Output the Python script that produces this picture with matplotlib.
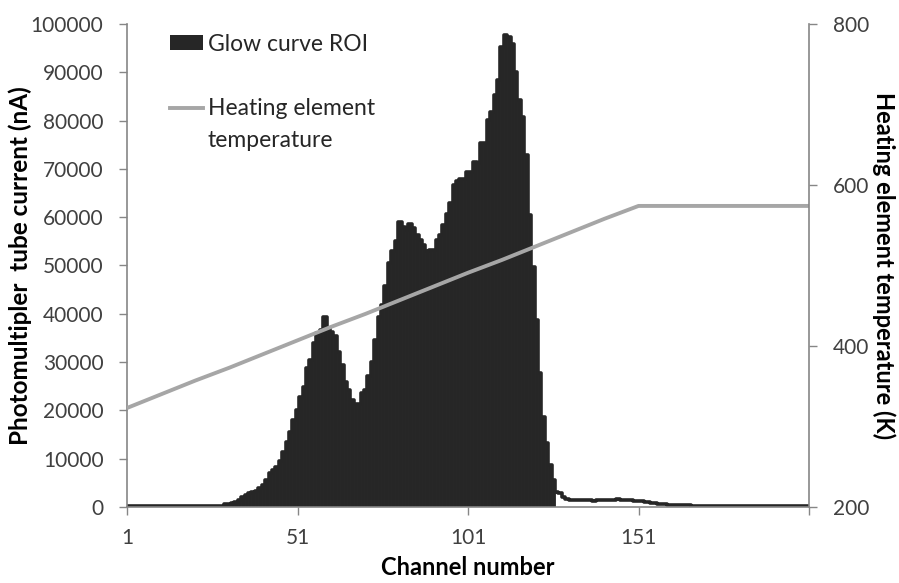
import numpy as np
import matplotlib
matplotlib.use("Agg")
import matplotlib.pyplot as plt
from matplotlib.patches import Patch
from matplotlib.lines import Line2D
from matplotlib.legend_handler import HandlerBase

plt.rcParams['font.family'] = ['Lato', 'DejaVu Sans']

# photomultiplier current per channel (nA), channels 1..201
glow_current = [
    120, 130, 120, 140, 130, 120, 130, 140, 150, 140, 130, 150, 140, 160,
    150, 140, 160, 170, 160, 180, 170, 190, 200, 190, 210, 230, 250, 280,
    300, 600, 700, 900, 1100, 1500, 2000, 2500, 2900, 3100, 3300, 4000,
    4600, 5600, 7000, 7600, 8300, 9500, 11400, 13500, 15500, 18000,
    20000, 22800, 24800, 28700, 30400, 33900, 36000, 36600, 39300, 37000,
    36300, 35300, 32100, 29400, 25900, 24200, 22100, 21300, 21300, 23600,
    24200, 27100, 30100, 34600, 39400, 41800, 45700, 50500, 53100, 55100,
    59100, 58000, 57300, 58600, 57700, 56300, 55300, 54200, 53100, 53200,
    53200, 55300, 56300, 58400, 60600, 63000, 66600, 67500, 67900, 67900,
    69400, 69400, 71500, 71300, 75400, 75300, 80100, 81800, 85300, 88500,
    95300, 97700, 97400, 95800, 90100, 84200, 80800, 72900, 60400, 49700,
    38700, 27700, 18700, 13200, 8700, 5600, 3200, 2800, 2100, 1700,
    1500, 1400, 1500, 1450, 1350, 1450, 1400, 1300, 1450, 1350,
    1400, 1500, 1350, 1450, 1550, 1400, 1500, 1450, 1400, 1300,
    1250, 1150, 1050, 950, 850, 750, 650, 600, 520, 450,
    400, 380, 350, 330, 320, 310, 300, 290, 300, 290,
    280, 290, 280, 300, 290, 280, 270, 280, 290, 280,
    270, 280, 270, 260, 270, 280, 270, 260, 270, 260,
    260, 270, 260, 250, 260, 270, 260, 250, 260, 250, 250,
]
channels = np.arange(1, len(glow_current) + 1)
roi_first, roi_last = 30, 126

# heating element temperature (K) sampled along the channel axis
temp_channels = [1, 11, 21, 31, 41, 51, 61, 71, 81, 91, 101, 111, 121, 131, 141, 151, 201]
temp_values = [323, 340, 357, 373, 390, 407, 424, 440, 457, 474, 491, 507, 524, 541, 558, 574, 574]

dark = '#262626'
grey_line = '#A6A6A6'
axis_grey = '#868686'
label_col = '#404040'


class FirstLineHandler(HandlerBase):
    # puts the legend line level with the first row of a two-row label
    def __init__(self, lift):
        super().__init__()
        self.lift = lift

    def create_artists(self, legend, orig_handle, xdescent, ydescent,
                       width, height, fontsize, trans):
        y = (height - ydescent) / 2 + self.lift
        line = Line2D([-xdescent, width - xdescent], [y, y],
                      color=orig_handle.get_color(),
                      lw=orig_handle.get_linewidth(), transform=trans)
        return [line]


fig = plt.figure(figsize=(8.99, 5.83), dpi=100)
ax = fig.add_axes([0.1413, 0.1304, 0.7586, 0.8284])

glow = np.array(glow_current)
ax.plot(channels, glow, color=dark, lw=2.6, drawstyle='steps-mid', zorder=1)
roi = (channels >= roi_first) & (channels <= roi_last)
ax.bar(channels[roi], glow[roi], width=1.0, color=dark, edgecolor=dark,
       linewidth=0.6, zorder=2)

ax.set_xlim(1, 201)
ax.set_ylim(0, 100000)
ax.set_xticks([1, 51, 101, 151, 201])
ax.set_xticklabels(['1', '51', '101', '151', ''])
ax.set_yticks(np.arange(0, 100001, 10000))

for side in ['top', 'right']:
    ax.spines[side].set_visible(False)
for side in ['left', 'bottom']:
    ax.spines[side].set_color(axis_grey)
    ax.spines[side].set_linewidth(1.2)

ax.tick_params(axis='y', direction='out', length=6, width=1, color=axis_grey,
               labelsize=15, labelcolor=label_col, pad=11)
ax.tick_params(axis='x', direction='out', length=6, width=1, color=axis_grey,
               labelsize=15, labelcolor=label_col, pad=9)

ax.set_xlabel('Channel number', fontsize=17, fontweight='bold', labelpad=6)
ax.set_ylabel('Photomultipler  tube current (nA)', fontsize=17.5, fontweight='bold')
ax.yaxis.set_label_coords(-0.139, 0.5)

ax2 = ax.twinx()
temp_line, = ax2.plot(temp_channels, temp_values, color=grey_line, lw=2.8,
                      solid_capstyle='butt')
ax2.set_ylim(200, 800)
ax2.set_yticks([200, 400, 600, 800])
for side in ['top', 'left', 'bottom']:
    ax2.spines[side].set_visible(False)
ax2.spines['right'].set_color(axis_grey)
ax2.spines['right'].set_linewidth(1.2)
ax2.tick_params(axis='y', direction='out', length=6, width=1, color=axis_grey,
                labelsize=15, labelcolor=label_col, pad=11)
ax2.set_ylabel('Heating element temperature (K)', fontsize=17, fontweight='bold',
               rotation=-90, labelpad=19)

handles = [Patch(facecolor=dark, edgecolor='none'),
           Line2D([], [], color=grey_line, lw=2.8)]
labels = ['Glow curve ROI', 'Heating element\ntemperature']
leg = ax2.legend(handles, labels, loc='upper left', bbox_to_anchor=(0.063, 0.98),
                 frameon=False, fontsize=16.5, handlelength=1.45, handleheight=0.65,
                 handletextpad=0.2, labelspacing=1.9, borderpad=0, borderaxespad=0,
                 labelcolor='#262626',
                 handler_map={Line2D: FirstLineHandler(12.5)})
for t in leg.get_texts():
    t.set_linespacing(1.65)

fig.savefig('out.png', dpi=100)
